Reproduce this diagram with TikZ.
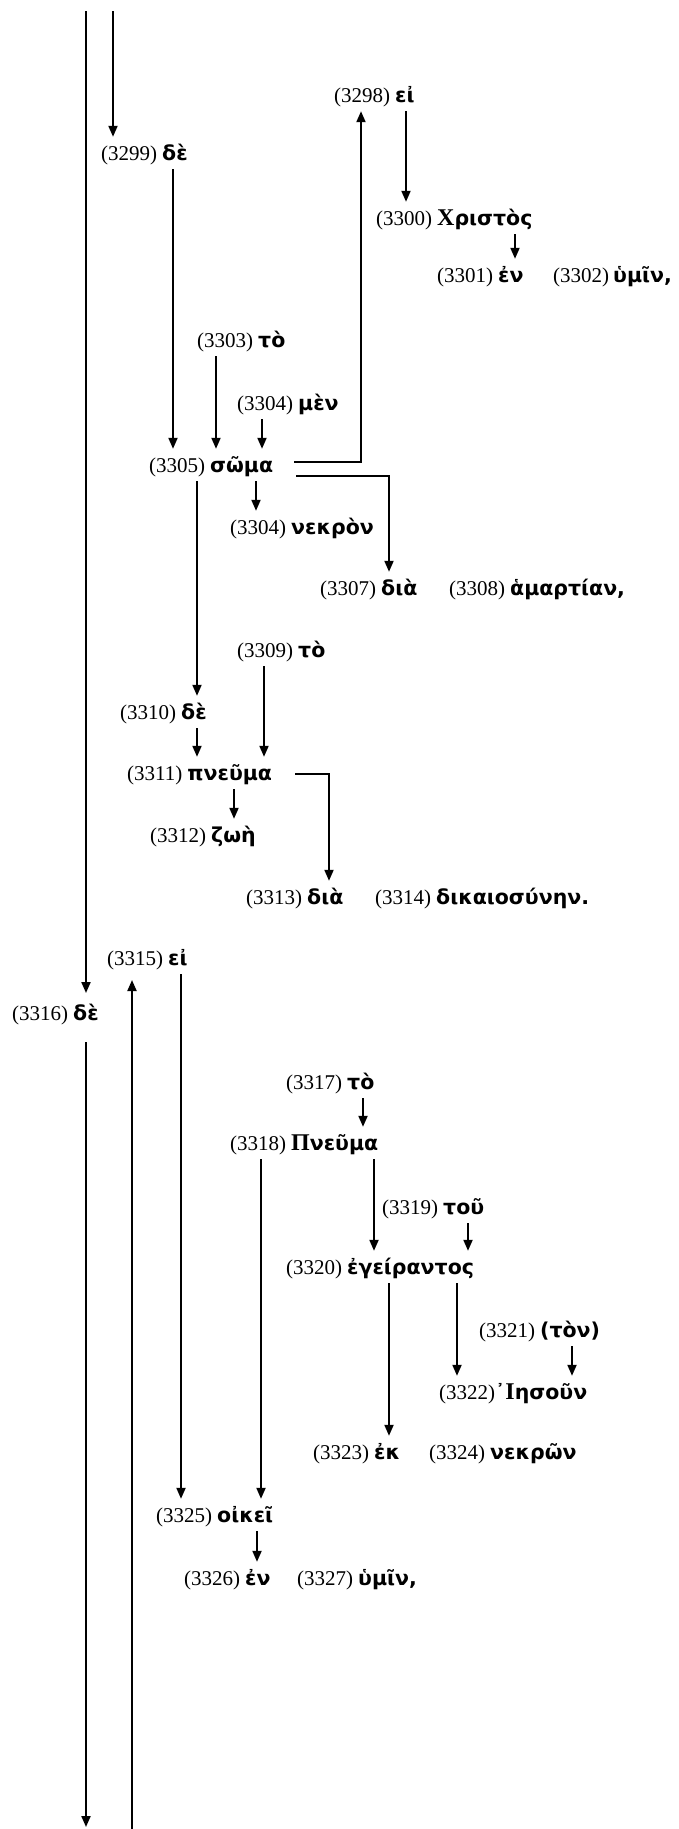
\documentclass[tikz,border=0pt]{standalone}
\usepackage{fontspec}
\setmainfont{Liberation Serif}
\newfontfamily\grkfont{DejaVu Sans}
\newfontfamily\capfont{Liberation Serif}
\usetikzlibrary{arrows.meta}
\newcommand{\nm}[1]{{\fontsize{21}{24}\selectfont(#1)}}
\newcommand{\gk}[1]{{\grkfont\bfseries\fontsize{20.5}{24}\selectfont #1}}
\newcommand{\gc}[1]{{\capfont\bfseries\fontsize{24}{24}\selectfont #1}}
\begin{document}
\begin{tikzpicture}[x=1pt,y=-1pt,
  word/.style={anchor=west, inner xsep=0pt, inner ysep=7pt, text height=16pt, text depth=2pt},
  ln/.style={line width=2pt},
  arr/.style={line width=2pt, -{Triangle[length=11pt,width=9pt]}}]
\useasboundingbox (0,0) rectangle (678,1829);
% nodes
\node[word] (n3298) at (334,95) {\nm{3298}\hspace{5pt}\gk{εἰ}};
\node[word] (n3299) at (101,153) {\nm{3299}\hspace{5pt}\gk{δὲ}};
\node[word] (n3300) at (376,218) {\nm{3300}\hspace{5pt}\gc{Χ}\gk{ριστὸς}};
\node[word] (n3301) at (437,275) {\nm{3301}\hspace{5pt}\gk{ἐν}};
\node[word] (n3302) at (553,275) {\nm{3302}\hspace{4pt}\gk{ὑμῖν,}};
\node[word] (n3303) at (197,340) {\nm{3303}\hspace{5pt}\gk{τὸ}};
\node[word] (n3304) at (237,403) {\nm{3304}\hspace{5pt}\gk{μὲν}};
\node[word] (n3305) at (149,465) {\nm{3305}\hspace{5pt}\gk{σῶμα}};
\node[word] (n3306) at (230,527) {\nm{3304}\hspace{5pt}\gk{νεκρὸν}};
\node[word] (n3307) at (320,588) {\nm{3307}\hspace{5pt}\gk{διὰ}};
\node[word] (n3308) at (449,588) {\nm{3308}\hspace{5pt}\gk{ἁμαρτίαν,}};
\node[word] (n3309) at (237,650) {\nm{3309}\hspace{5pt}\gk{τὸ}};
\node[word] (n3310) at (120,712) {\nm{3310}\hspace{5pt}\gk{δὲ}};
\node[word] (n3311) at (127,773) {\nm{3311}\hspace{5pt}\gk{πνεῦμα}};
\node[word] (n3312) at (150,835) {\nm{3312}\hspace{5pt}\gk{ζωὴ}};
\node[word] (n3313) at (246,897) {\nm{3313}\hspace{5pt}\gk{διὰ}};
\node[word] (n3314) at (375,897) {\nm{3314}\hspace{5pt}\gk{δικαιοσύνην.}};
\node[word] (n3315) at (107,958) {\nm{3315}\hspace{5pt}\gk{εἰ}};
\node[word] (n3316) at (12,1013) {\nm{3316}\hspace{5pt}\gk{δὲ}};
\node[word] (n3317) at (286,1082) {\nm{3317}\hspace{5pt}\gk{τὸ}};
\node[word] (n3318) at (230,1143) {\nm{3318}\hspace{5pt}\gc{Π}\gk{νεῦμα}};
\node[word] (n3319) at (382,1207) {\nm{3319}\hspace{5pt}\gk{τοῦ}};
\node[word] (n3320) at (286,1267) {\nm{3320}\hspace{5pt}\gk{ἐγείραντος}};
\node[word] (n3321) at (479,1330) {\nm{3321}\hspace{5pt}\gk{(τὸν)}};
\node[word] (n3322) at (439,1392) {\nm{3322}\gk{᾿}\gc{Ι}\gk{ησοῦν}};
\node[word] (n3323) at (313,1452) {\nm{3323}\hspace{5pt}\gk{ἐκ}};
\node[word] (n3324) at (429,1452) {\nm{3324}\hspace{5pt}\gk{νεκρῶν}};
\node[word] (n3325) at (156,1515) {\nm{3325}\hspace{5pt}\gk{οἰκεῖ}};
\node[word] (n3326) at (184,1578) {\nm{3326}\hspace{5pt}\gk{ἐν}};
\node[word] (n3327) at (297,1578) {\nm{3327}\hspace{5pt}\gk{ὑμῖν,}};
% free ends
\coordinate (topA) at (86,11);
\coordinate (topB) at (113,11);
\coordinate (botA) at (86,1827);
\coordinate (botB) at (132,1829);
\coordinate (s3316) at (86,1042);
\coordinate (t3316) at (86,993);
\coordinate (t3315) at (132,980);
\coordinate (b1) at (294,462);
\coordinate (b2) at (296,476);
\coordinate (b3) at (295,774);
% connectors
\draw[arr] (topA) -- (t3316);
\draw[arr] (topB) -- (113,0 |- n3299.north);
\draw[arr] (173,0 |- n3299.south) -- (173,0 |- n3305.north);
\draw[arr] (b1) -| (361,0 |- n3298.south);
\draw[arr] (406,0 |- n3298.south) -- (406,0 |- n3300.north);
\draw[arr] (515,0 |- n3300.south) -- (515,0 |- n3301.north);
\draw[arr] (216,0 |- n3303.south) -- (216,0 |- n3305.north);
\draw[arr] (262,0 |- n3304.south) -- (262,0 |- n3305.north);
\draw[arr] (256,0 |- n3305.south) -- (256,0 |- n3306.north);
\draw[arr] (b2) -| (389,0 |- n3307.north);
\draw[arr] (197,0 |- n3305.south) -- (197,0 |- n3310.north);
\draw[arr] (264,0 |- n3309.south) -- (264,0 |- n3311.north);
\draw[arr] (197,0 |- n3310.south) -- (197,0 |- n3311.north);
\draw[arr] (b3) -| (329,0 |- n3313.north);
\draw[arr] (234,0 |- n3311.south) -- (234,0 |- n3312.north);
\draw[arr] (botB) -- (t3315);
\draw[arr] (181,0 |- n3315.south) -- (181,0 |- n3325.north);
\draw[arr] (s3316) -- (botA);
\draw[arr] (363,0 |- n3317.south) -- (363,0 |- n3318.north);
\draw[arr] (261,0 |- n3318.south) -- (261,0 |- n3325.north);
\draw[arr] (374,0 |- n3318.south) -- (374,0 |- n3320.north);
\draw[arr] (468,0 |- n3319.south) -- (468,0 |- n3320.north);
\draw[arr] (389,0 |- n3320.south) -- (389,0 |- n3323.north);
\draw[arr] (457,0 |- n3320.south) -- (457,0 |- n3322.north);
\draw[arr] (572,0 |- n3321.south) -- (572,0 |- n3322.north);
\draw[arr] (257,0 |- n3325.south) -- (257,0 |- n3326.north);
\end{tikzpicture}
\end{document}
